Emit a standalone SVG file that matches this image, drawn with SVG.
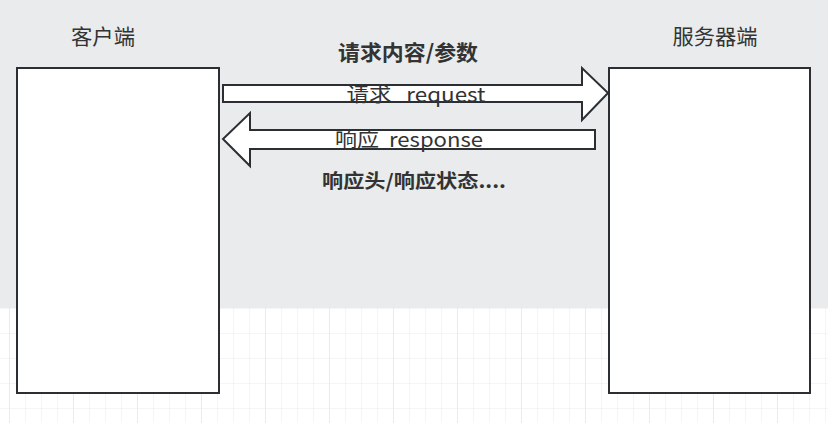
<svg xmlns="http://www.w3.org/2000/svg" width="828" height="423" viewBox="0 0 828 423">
<style>
.box{fill:#ffffff;stroke:#2b2f33;stroke-width:2}
.arrow{fill:#ffffff;stroke:#2b2f33;stroke-width:2;stroke-linejoin:miter}
.t{font-family:"Noto Sans CJK SC","Noto Sans",sans-serif;fill:#333333;text-anchor:middle}
.b{font-weight:bold}
</style>
<defs>
<pattern id="minor" x="9" y="308" width="16" height="25" patternUnits="userSpaceOnUse">
<path d="M0 0V25M0 0H16" fill="none" stroke="#ececec" stroke-width="1"/>
</pattern>
<pattern id="major" x="9" y="308" width="64" height="100" patternUnits="userSpaceOnUse">
<path d="M0 0V100" fill="none" stroke="#e2e2e2" stroke-width="1"/>
</pattern>
</defs>
<rect x="0" y="0" width="828" height="423" fill="#ffffff"/>
<rect x="0" y="308" width="828" height="115" fill="url(#minor)"/>
<rect x="0" y="308" width="828" height="115" fill="url(#major)"/>
<rect x="0" y="0" width="828" height="308" fill="#e9ebec"/>
<g id="client">
<rect class="box" x="17" y="68" width="202" height="325"/>
<text class="t" x="103" y="44" font-size="21" textLength="64" lengthAdjust="spacingAndGlyphs">客户端</text>
</g>
<g id="server">
<rect class="box" x="609" y="68" width="201" height="325"/>
<text class="t" x="715" y="44" font-size="21" textLength="85" lengthAdjust="spacingAndGlyphs">服务器端</text>
</g>
<g id="connectors">
<polygon class="arrow" points="223,85 582,85 582,68 608,93 582,120 582,102 223,102"/>
<polygon class="arrow" points="595,130 250,130 250,113 223,139 250,166 250,149 595,149"/>
</g>
<g id="labels">
<text class="t b" x="408" y="60" font-size="21" textLength="140" lengthAdjust="spacingAndGlyphs">请求内容/参数</text>
<text class="t" x="416" y="102" font-size="20" xml:space="preserve" textLength="139" lengthAdjust="spacingAndGlyphs">请求   request</text>
<text class="t" x="409" y="147" font-size="20" xml:space="preserve" textLength="148" lengthAdjust="spacingAndGlyphs">响应  response</text>
<text class="t b" x="414" y="188" font-size="19" textLength="184" lengthAdjust="spacingAndGlyphs">响应头/响应状态....</text>
</g>
</svg>
